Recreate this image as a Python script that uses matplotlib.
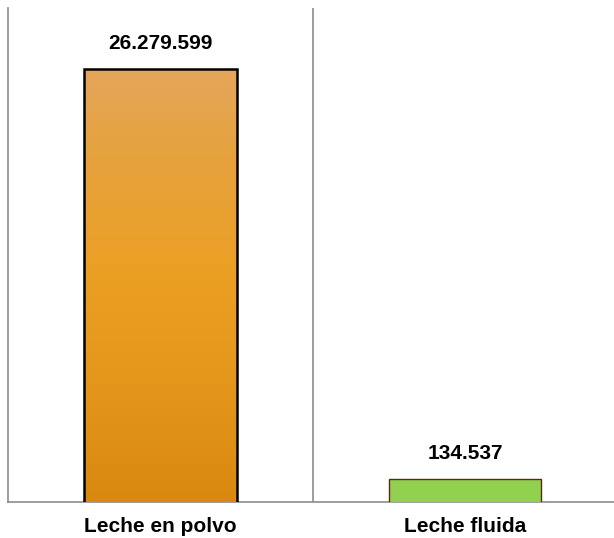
import numpy as np
import matplotlib.pyplot as plt
from matplotlib.colors import LinearSegmentedColormap

plt.rcParams['font.family'] = ['Liberation Sans', 'DejaVu Sans']

categories = ['Leche en polvo', 'Leche fluida']
values = [26279599, 134537]
labels = ['26.279.599', '134.537']

fig = plt.figure(figsize=(6.14, 5.38), dpi=100)
ax = fig.add_axes([8 / 614, 36 / 538, 1 - 8 / 614 + 0.006, 494 / 538])

ax.set_yscale('log')
ax.set_ylim(1e5, 10 ** 7.76)
ax.set_xlim(-0.5, 1.5)

bars = ax.bar(range(len(values)), values, width=0.5,
              color=['#e39a35', '#92d050'], linewidth=[1.8, 1.0],
              edgecolor=['black', '#5a2a10'], zorder=3)

# gradient on the first bar
cmap = LinearSegmentedColormap.from_list('g', [
    (0.0, '#da8810'), (0.2, '#e2951a'), (0.45, '#eb9f22'),
    (0.7, '#e6a23e'), (0.88, '#e5a65c'), (1.0, '#e5a65c')])
grad = np.linspace(0, 1, 256).reshape(-1, 1)
img = ax.imshow(grad, cmap=cmap, origin='lower', aspect='auto',
                extent=[0, 1, 0, 1], transform=ax.transAxes, zorder=3.5)
img.set_clip_path(bars[0])
bars[0].set_facecolor('none')
bars[0].set_zorder(4)

for i, (v, t) in enumerate(zip(values, labels)):
    ax.annotate(t, xy=(i, v), xytext=(0, 18), textcoords='offset points',
                ha='center', va='center', fontsize=15, fontweight='bold')

for x in [0.5, 1.5]:
    ax.axvline(x, color='#8c8c8c', linewidth=1.2, zorder=1)

ax.set_xticks(range(len(categories)))
ax.set_xticklabels(categories, fontsize=15, fontweight='bold')
ax.tick_params(axis='x', length=0, pad=11)
ax.set_yticks([])
ax.yaxis.set_minor_locator(plt.NullLocator())
for s in ['top', 'right']:
    ax.spines[s].set_visible(False)
for s in ['left', 'bottom']:
    ax.spines[s].set_color('#8c8c8c')
    ax.spines[s].set_linewidth(1.2)

fig.savefig('out.png', dpi=100)
